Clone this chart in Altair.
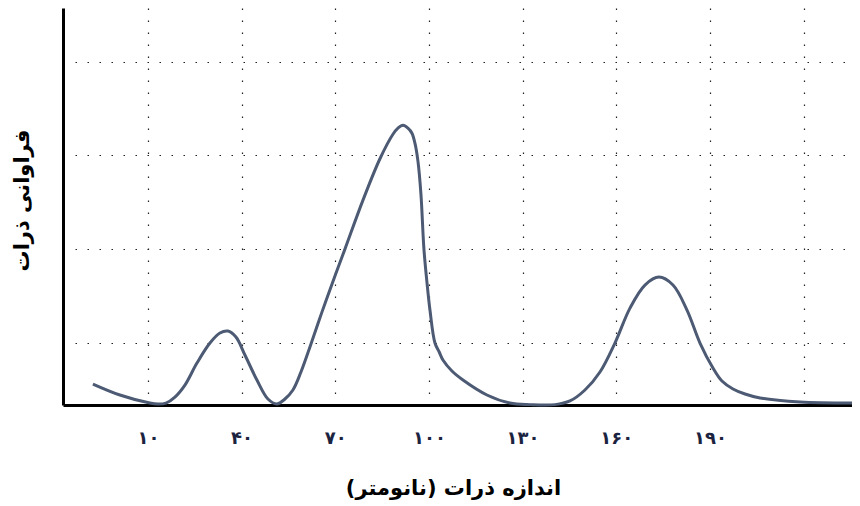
import altair as alt
import pandas as pd

# particle size (nm) and relative frequency
size_nm = [-7.62, 1.03, 10.64, 13.2, 15.77, 18.65, 21.85, 25.70, 29.86, 33.06, 35.62, 38.19,
           41.07, 44.91, 48.44, 51.32, 53.88, 56.44, 59.01, 61.89, 65.73, 69.90, 73.10,
           78.88, 84.31, 88.48, 90.08, 91.68, 93.28, 94.56, 95.52, 96.48, 97.44, 98.40,
           99.36, 100.33, 101.93, 103.3, 104.49, 107.37, 110.90, 118.58, 125.95, 132.36,
           140.37, 145.17, 149.97, 154.78, 159.58, 164.39, 169.19, 173.68, 178.16,
           182.65, 186.81, 190.97, 193.85, 197.39, 201.23, 206.04, 218.85, 236.47]
freq = [0.224, 0.107, 0.021, 0.011, 0.021, 0.085, 0.213, 0.448, 0.662, 0.769, 0.790, 0.726,
        0.534, 0.267, 0.064, 0.011, 0.064, 0.160, 0.352, 0.619, 0.992, 1.377, 1.665,
        2.188, 2.630, 2.892, 2.957, 2.988, 2.957, 2.903, 2.796, 2.604, 2.252, 1.665,
        1.313, 1.014, 0.662, 0.566, 0.480, 0.363, 0.267, 0.107, 0.021, 0.004,
        0.004, 0.043, 0.160, 0.352, 0.662, 1.035, 1.281, 1.366, 1.281,
        1.014, 0.662, 0.395, 0.256, 0.171, 0.117, 0.075, 0.032, 0.021]

x_ticks = [10, 40, 70, 100, 130, 160, 190, 220]
x_tick_labels = ["۱۰", "۴۰", "۷۰", "۱۰۰", "۱۳۰", "۱۶۰", "۱۹۰", ""]
y_grid = [0.662, 1.665, 2.668, 3.66]

x_title = "اندازه ذرات (نانومتر)"
y_title = "فراوانی ذرات"

df = pd.DataFrame({"size": size_nm, "freq": freq})

label_expr = "''"
for v, lab in reversed(list(zip(x_ticks, x_tick_labels))):
    label_expr = f"datum.value == {v} ? '{lab}' : ({label_expr})"

chart = alt.Chart(df).mark_line(
    color="#4d5a74", strokeWidth=3, interpolate="catmull-rom"
).encode(
    x=alt.X("size:Q",
            scale=alt.Scale(domain=[-17.2, 235.5], nice=False, zero=False),
            axis=alt.Axis(values=x_ticks, labelExpr=label_expr, title=x_title,
                          grid=True, gridDash=[1.5, 10.5], gridColor="#222", gridWidth=1.2,
                          ticks=False, domainColor="#000", domainWidth=3,
                          labelFont="DejaVu Sans", labelFontSize=18, labelColor="#1b2340",
                          labelPadding=24, labelFontWeight="bold",
                          titleFont="DejaVu Sans", titleFontSize=21, titleFontWeight="bold",
                          titleColor="#000", titleX=390, titleY=83, titleBaseline="middle")),
    y=alt.Y("freq:Q",
            scale=alt.Scale(domain=[0, 4.24], nice=False),
            axis=alt.Axis(values=y_grid, labels=False, ticks=False, title=y_title,
                          grid=True, gridDash=[1.5, 10.5], gridColor="#222", gridWidth=1.2,
                          domainColor="#000", domainWidth=3,
                          titleFont="DejaVu Sans", titleFontSize=21, titleFontWeight="bold",
                          titleColor="#000", titleX=-41, titleY=192, titleAngle=-90,
                          titleBaseline="middle")),
).properties(
    width=789, height=397,
    autosize=alt.AutoSizeParams(type="none"),
    padding={"left": 55, "top": 0, "right": 0, "bottom": 95},
).configure_view(stroke=None)

chart.save("out.html", embed_options={"renderer": "svg", "actions": False})
